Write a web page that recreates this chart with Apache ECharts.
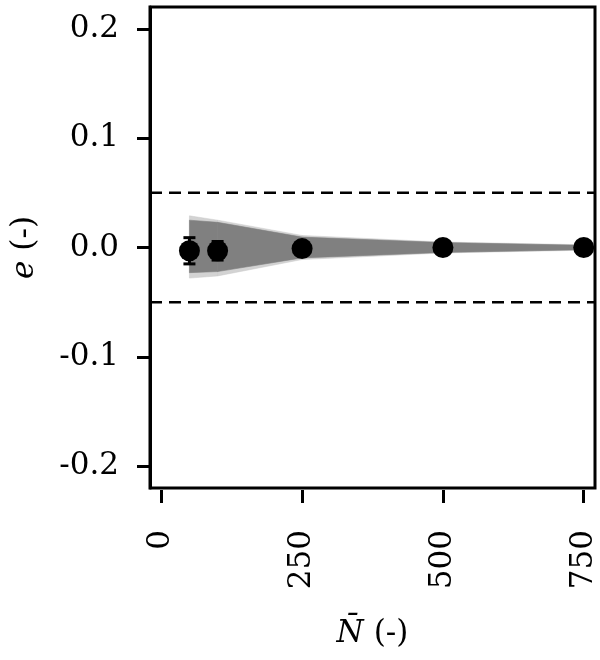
<!DOCTYPE html>
<html>
<head>
<meta charset="utf-8">
<script src="https://cdn.jsdelivr.net/npm/echarts@6/dist/echarts.min.js"></script>
<style>
  html, body { margin: 0; padding: 0; background: #fff; }
  #chart { width: 600px; height: 660px; }
</style>
</head>
<body>
<div id="chart"></div>
<script>
  // 测点
  var sampleN = [50, 100, 250, 500, 750];
  var meanErr = [-0.003, -0.003, -0.001, 0.000, 0.000];
  var errBar = [0.012, 0.0085, 0.002, 0.001, 0.0005];

  // 灰色带（核心 + 外缘淡线）
  var bandN = [50, 100, 250, 500, 750];
  var coreHi = [0.025, 0.023, 0.0095, 0.0045, 0.002];
  var coreLo = [-0.023, -0.022, -0.0095, -0.0045, -0.002];
  var outerHi = [0.029, 0.025, 0.011, 0.005, 0.0025];
  var outerLo = [-0.028, -0.026, -0.011, -0.005, -0.0025];

  // 容差线
  var tolerance = [0.05, -0.05];
  var xTicks = [0, 250, 500, 750];
  var yTicks = [-0.2, -0.1, 0, 0.1, 0.2];

  var font = 'DejaVu Serif';
  var nameRich = {
    it: { fontFamily: font, fontSize: 31, fontStyle: 'italic', color: '#000' },
    up: { fontFamily: font, fontSize: 31, color: '#000', padding: [0, 0, 0, 10] }
  };

  function bandSegments(lo, hi) {
    var out = [];
    for (var i = 0; i < bandN.length - 1; i++) {
      out.push([bandN[i], bandN[i + 1], lo[i], hi[i], lo[i + 1], hi[i + 1]]);
    }
    return out;
  }

  function bandRender(color, opacity) {
    return function (params, api) {
      var x0 = api.value(0), x1 = api.value(1);
      var pts = [
        api.coord([x0, api.value(3)]),
        api.coord([x1, api.value(5)]),
        api.coord([x1, api.value(4)]),
        api.coord([x0, api.value(2)])
      ];
      return {
        type: 'polygon',
        shape: { points: pts },
        style: { fill: color, opacity: opacity, stroke: color, lineWidth: 0.6 }
      };
    };
  }

  var chart = echarts.init(document.getElementById('chart'));
  chart.setOption({
    animation: false,
    grid: {
      left: 150, right: 5, top: 7, bottom: 172,
      show: true, borderColor: '#000', borderWidth: 3
    },
    xAxis: {
      type: 'value', min: -20, max: 770,
      offset: 2,
      name: '{it|N\u0304}{up|(-)}',
      nameLocation: 'middle', nameGap: 128,
      nameTextStyle: { rich: nameRich },
      axisLine: { show: false, onZero: false },
      axisTick: { show: true, length: 13, lineStyle: { color: '#000', width: 3 }, customValues: xTicks },
      axisLabel: {
        customValues: xTicks, rotate: 90, margin: 40,
        fontFamily: font, fontSize: 31, color: '#000'
      },
      splitLine: { show: false }
    },
    yAxis: {
      type: 'value', min: -0.22, max: 0.22,
      name: '{it|e}{up|(-)}',
      nameLocation: 'middle', nameGap: 110,
      nameTextStyle: { rich: nameRich },
      axisLine: { show: true, onZero: false, lineStyle: { color: '#000', width: 3 } },
      axisTick: { show: true, length: 13, lineStyle: { color: '#000', width: 3 }, customValues: yTicks },
      axisLabel: {
        customValues: yTicks, margin: 31,
        fontFamily: font, fontSize: 31, color: '#000',
        formatter: function (v) { return v.toFixed(1); }
      },
      splitLine: { show: false }
    },
    series: [
      {
        type: 'custom',
        data: bandSegments(outerLo, outerHi),
        encode: { x: [0, 1], y: [2, 3, 4, 5] },
        renderItem: bandRender('#c8c8c8', 0.8),
        z: 1
      },
      {
        type: 'custom',
        data: bandSegments(coreLo, coreHi),
        encode: { x: [0, 1], y: [2, 3, 4, 5] },
        renderItem: bandRender('#808080', 1),
        z: 2
      },
      {
        type: 'line',
        data: [[-20, tolerance[0]], [770, tolerance[0]]],
        symbol: 'none',
        lineStyle: { color: '#000', width: 2.5, type: [12, 7] },
        z: 3
      },
      {
        type: 'line',
        data: [[-20, tolerance[1]], [770, tolerance[1]]],
        symbol: 'none',
        lineStyle: { color: '#000', width: 2.5, type: [12, 7] },
        z: 3
      },
      {
        type: 'custom',
        data: sampleN.map(function (n, i) { return [n, meanErr[i] - errBar[i], meanErr[i] + errBar[i]]; }),
        encode: { x: 0, y: [1, 2] },
        renderItem: function (params, api) {
          var lo = api.coord([api.value(0), api.value(1)]);
          var hi = api.coord([api.value(0), api.value(2)]);
          var w = 6;
          var st = { stroke: '#000', lineWidth: 3 };
          return {
            type: 'group',
            children: [
              { type: 'line', shape: { x1: lo[0], y1: lo[1], x2: hi[0], y2: hi[1] }, style: st },
              { type: 'line', shape: { x1: lo[0] - w, y1: lo[1], x2: lo[0] + w, y2: lo[1] }, style: st },
              { type: 'line', shape: { x1: hi[0] - w, y1: hi[1], x2: hi[0] + w, y2: hi[1] }, style: st }
            ]
          };
        },
        z: 4
      },
      {
        type: 'scatter',
        data: sampleN.map(function (n, i) { return [n, meanErr[i]]; }),
        symbol: 'circle', symbolSize: 21,
        itemStyle: { color: '#000', opacity: 1 },
        z: 5
      }
    ]
  });
</script>
</body>
</html>
